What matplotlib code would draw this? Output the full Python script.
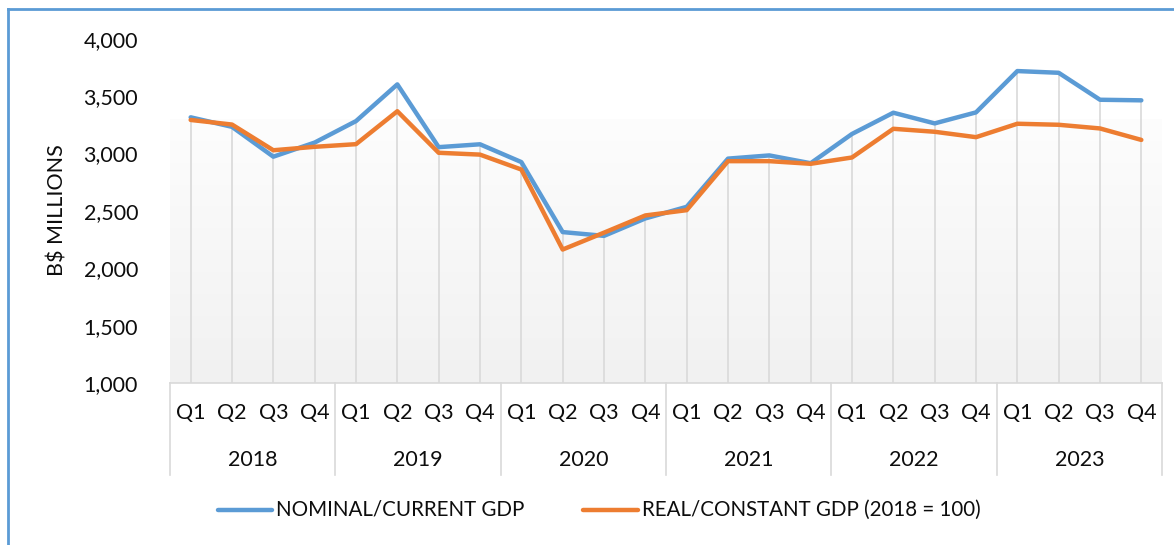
import numpy as np
import matplotlib
matplotlib.use('Agg')
import matplotlib.pyplot as plt
from matplotlib.lines import Line2D
import matplotlib.transforms as mtransforms

plt.rcParams['font.family'] = ['Lato', 'DejaVu Sans']

years = ['2018', '2019', '2020', '2021', '2022', '2023']
quarters = ['Q1', 'Q2', 'Q3', 'Q4']
nominal = [3315, 3232, 2972, 3095, 3282, 3602, 3055, 3080, 2925, 2315,
           2282, 2434, 2535, 2955, 2983, 2915, 3170, 3355, 3262, 3358,
           3718, 3703, 3468, 3463]
real = [3292, 3252, 3028, 3058, 3081, 3368, 3006, 2990, 2860, 2163,
        2310, 2460, 2506, 2933, 2933, 2910, 2965, 3215, 3189, 3142,
        3259, 3250, 3218, 3118]
series_names = ['NOMINAL/CURRENT GDP', 'REAL/CONSTANT GDP (2018 = 100)']
colors = ['#5b9bd5', '#ed7d31']
fs = 15.5
tc = '#0d0d0d'

W, H = 1174, 545
fig = plt.figure(figsize=(W/100, H/100), dpi=100)
fig.patch.set_facecolor('white')

# axes placed by pixel box of plot area
x0, x1 = 170, 1162
y_top, y_bot = 38.7, 383
ax = fig.add_axes([x0/W, 1 - y_bot/H, (x1 - x0)/W, (y_bot - y_top)/H])
ax.set_facecolor('none')
n = len(nominal)
x = np.arange(n)
ax.set_xlim(-0.5, n - 0.5)
ax.set_ylim(1000, 4000)

# gradient background
grad = np.linspace(0.945, 0.992, 200).reshape(-1, 1)
ax.imshow(np.dstack([grad, grad, grad]), extent=(-0.5, n - 0.5, 1000, 3300),
          origin='lower', aspect='auto', zorder=0)

# drop lines
tops = np.maximum(nominal, real)
ax.vlines(x, 1000, tops, color='#d9d9d9', lw=1.2, zorder=1)

ax.plot(x, nominal, color=colors[0], lw=3.2, zorder=3, solid_capstyle='round')
ax.plot(x, real, color=colors[1], lw=3.2, zorder=4, solid_capstyle='round')

for s in ax.spines.values():
    s.set_visible(False)
yt = [1000, 1500, 2000, 2500, 3000, 3500, 4000]
ax.set_yticks(yt)
ax.set_yticklabels([f'{v:,}' for v in yt], fontsize=fs, color=tc)
ax.tick_params(axis='y', length=0, pad=23)
ax.set_xticks([])

# category axis
trans = mtransforms.blended_transform_factory(ax.transData, ax.transAxes)
ax.plot([-0.5, n - 0.5], [0, 0], transform=trans, color='#d9d9d9', lw=1.2, clip_on=False)
for k in range(len(years) + 1):
    xb = -0.5 + 4 * k
    ax.plot([xb, xb], [0, -0.267], transform=trans, color='#d9d9d9', lw=1.2, clip_on=False)
for i in range(n):
    ax.text(i, -0.087, quarters[i % 4], transform=trans, ha='center', va='center',
            fontsize=fs, color=tc)
for k, yr in enumerate(years):
    ax.text(1.5 + 4 * k, -0.224, yr, transform=trans, ha='center', va='center',
            fontsize=fs, color=tc)

fig.text(57/W, 1 - 210/H, 'B$ MILLIONS', rotation=90, ha='center', va='center',
         fontsize=fs, color=tc)

# legend
leg_y = 1 - 510/H
for (lx0, lx1, tx), name, c in zip([(218, 272, 276), (583, 638, 642)], series_names, colors):
    fig.add_artist(Line2D([lx0/W, lx1/W], [leg_y, leg_y], color=c, lw=3.2,
                          transform=fig.transFigure, solid_capstyle='round'))
    fig.text(tx/W, leg_y, name, ha='left', va='center', fontsize=14.8, color=tc)

# chart border (left and top visible)
fig.add_artist(Line2D([7.5/W, 7.5/W], [0, 1 - 9/H], color='#5b9bd5', lw=2,
                      transform=fig.transFigure))
fig.add_artist(Line2D([7.5/W, 1], [1 - 9/H, 1 - 9/H], color='#5b9bd5', lw=2,
                      transform=fig.transFigure))

fig.savefig('out.png', dpi=100)
